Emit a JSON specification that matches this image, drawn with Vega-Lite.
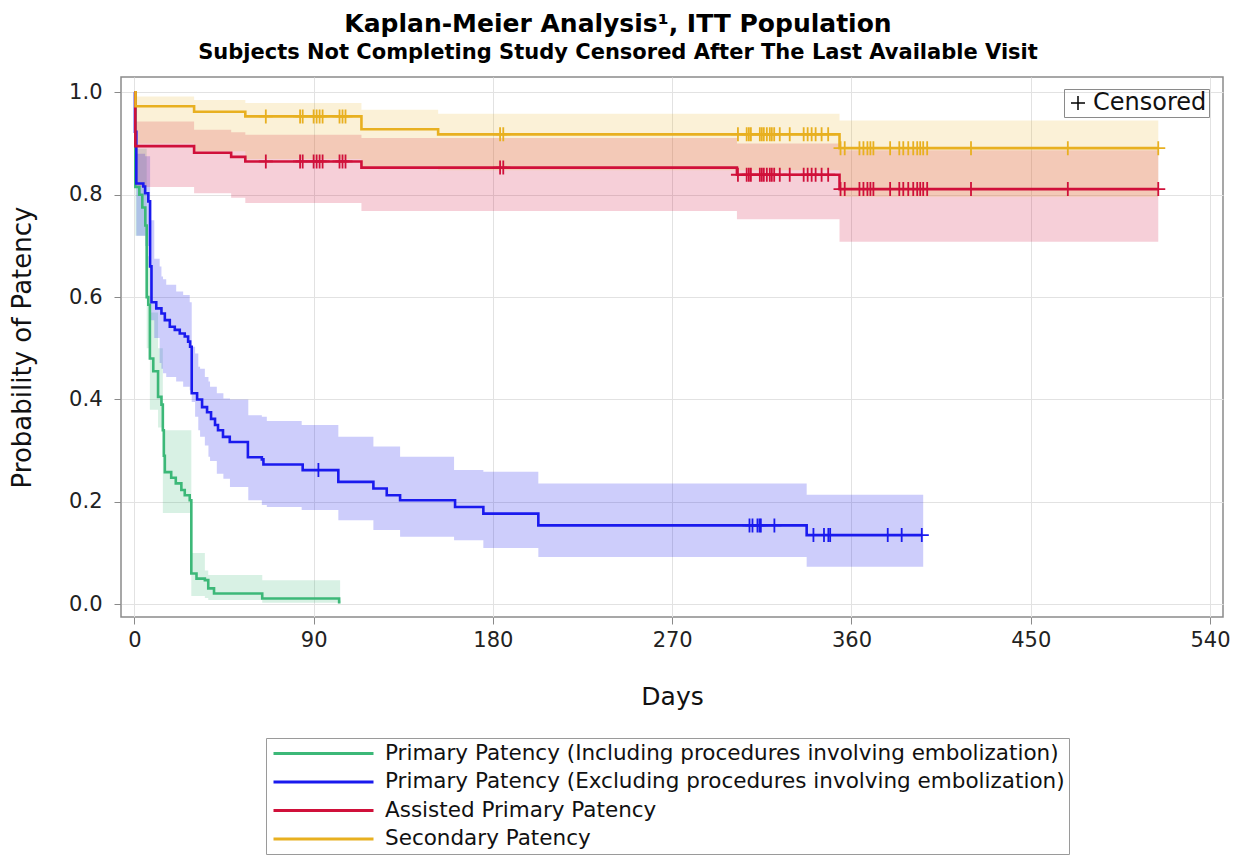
{
  "$schema": "https://vega.github.io/schema/vega-lite/v6.json",
  "width": 1102,
  "height": 540,
  "autosize": {"type": "none"},
  "padding": {"left": 121, "top": 77, "right": 19, "bottom": 238},
  "background": "white",
  "title": {
    "text": "Kaplan-Meier Analysis¹, ITT Population",
    "subtitle": "Subjects Not Completing Study Censored After The Last Available Visit",
    "font": "DejaVu Sans",
    "fontSize": 25,
    "fontWeight": "bold",
    "color": "#000000",
    "subtitleFont": "DejaVu Sans",
    "subtitleFontSize": 21,
    "subtitleFontWeight": "bold",
    "subtitleColor": "#000000",
    "subtitlePadding": 5,
    "anchor": "middle",
    "frame": "group",
    "dx": -54,
    "offset": 14
  },
  "config": {
    "view": {"stroke": "#8a8a8a", "strokeWidth": 1.5},
    "axis": {
      "labelFont": "DejaVu Sans",
      "labelFontSize": 21,
      "labelColor": "#222222",
      "titleFont": "DejaVu Sans",
      "titleFontWeight": "normal",
      "titleColor": "#111111",
      "tickColor": "#8a8a8a",
      "tickSize": 7,
      "domain": false,
      "grid": true,
      "gridColor": "#e2e2e2",
      "gridWidth": 1
    }
  },
  "datasets": {
    "curves": [
      {"s": "G", "d": 0, "p": 1.0}, {"s": "G", "d": 0.5, "p": 0.815}, {"s": "G", "d": 2.5, "p": 0.8}, {"s": "G", "d": 4, "p": 0.775},
      {"s": "G", "d": 5.5, "p": 0.74}, {"s": "G", "d": 6.2, "p": 0.6}, {"s": "G", "d": 7, "p": 0.585}, {"s": "G", "d": 7.8, "p": 0.48},
      {"s": "G", "d": 9.5, "p": 0.455}, {"s": "G", "d": 11.9, "p": 0.405}, {"s": "G", "d": 13.6, "p": 0.39}, {"s": "G", "d": 14.3, "p": 0.34},
      {"s": "G", "d": 14.8, "p": 0.29}, {"s": "G", "d": 15.3, "p": 0.258}, {"s": "G", "d": 18.5, "p": 0.247}, {"s": "G", "d": 20.8, "p": 0.236},
      {"s": "G", "d": 23.6, "p": 0.223}, {"s": "G", "d": 25.3, "p": 0.213}, {"s": "G", "d": 27.8, "p": 0.203}, {"s": "G", "d": 28.6, "p": 0.06},
      {"s": "G", "d": 31.2, "p": 0.05}, {"s": "G", "d": 35.4, "p": 0.047}, {"s": "G", "d": 37.1, "p": 0.031}, {"s": "G", "d": 40, "p": 0.021},
      {"s": "G", "d": 64.2, "p": 0.011}, {"s": "G", "d": 102.8, "p": 0.004}, {"s": "G", "d": 103.5, "p": 0.004},
      {"s": "B", "d": 0, "p": 1.0}, {"s": "B", "d": 0.3, "p": 0.923}, {"s": "B", "d": 1, "p": 0.822}, {"s": "B", "d": 4.5, "p": 0.816},
      {"s": "B", "d": 5.4, "p": 0.803}, {"s": "B", "d": 7, "p": 0.787}, {"s": "B", "d": 7.9, "p": 0.66}, {"s": "B", "d": 8.6, "p": 0.59},
      {"s": "B", "d": 11, "p": 0.578}, {"s": "B", "d": 13.6, "p": 0.568}, {"s": "B", "d": 15.3, "p": 0.555}, {"s": "B", "d": 17.8, "p": 0.542},
      {"s": "B", "d": 20.3, "p": 0.536}, {"s": "B", "d": 22.8, "p": 0.529}, {"s": "B", "d": 25.3, "p": 0.523}, {"s": "B", "d": 27, "p": 0.513},
      {"s": "B", "d": 28, "p": 0.503}, {"s": "B", "d": 28.8, "p": 0.412}, {"s": "B", "d": 31.5, "p": 0.4}, {"s": "B", "d": 34, "p": 0.385},
      {"s": "B", "d": 36.5, "p": 0.375}, {"s": "B", "d": 38.5, "p": 0.362}, {"s": "B", "d": 40.5, "p": 0.35}, {"s": "B", "d": 42, "p": 0.34},
      {"s": "B", "d": 44.5, "p": 0.327}, {"s": "B", "d": 47.9, "p": 0.317}, {"s": "B", "d": 57, "p": 0.287}, {"s": "B", "d": 64, "p": 0.283},
      {"s": "B", "d": 64.8, "p": 0.273}, {"s": "B", "d": 84.5, "p": 0.262}, {"s": "B", "d": 102.4, "p": 0.239}, {"s": "B", "d": 120, "p": 0.226},
      {"s": "B", "d": 126.7, "p": 0.213}, {"s": "B", "d": 133.4, "p": 0.203}, {"s": "B", "d": 161, "p": 0.19}, {"s": "B", "d": 175.2, "p": 0.177},
      {"s": "B", "d": 202.8, "p": 0.154}, {"s": "B", "d": 337.5, "p": 0.135}, {"s": "B", "d": 395.5, "p": 0.135},
      {"s": "R", "d": 0, "p": 1.0}, {"s": "R", "d": 0.5, "p": 0.895}, {"s": "R", "d": 30, "p": 0.882}, {"s": "R", "d": 48.6, "p": 0.874},
      {"s": "R", "d": 55.7, "p": 0.865}, {"s": "R", "d": 114, "p": 0.853}, {"s": "R", "d": 302.5, "p": 0.839}, {"s": "R", "d": 354, "p": 0.811},
      {"s": "R", "d": 514, "p": 0.811},
      {"s": "Y", "d": 0, "p": 1.0}, {"s": "Y", "d": 0.6, "p": 0.973}, {"s": "Y", "d": 30, "p": 0.962}, {"s": "Y", "d": 55.7, "p": 0.953},
      {"s": "Y", "d": 114, "p": 0.928}, {"s": "Y", "d": 152.5, "p": 0.918}, {"s": "Y", "d": 354, "p": 0.891}, {"s": "Y", "d": 514, "p": 0.891}
    ],
    "bandG": [
      {"d": 0, "lo": 1.0, "hi": 1.0}, {"d": 0.5, "lo": 0.72, "hi": 0.89}, {"d": 6.2, "lo": 0.5, "hi": 0.68},
      {"d": 7.8, "lo": 0.38, "hi": 0.57}, {"d": 11.9, "lo": 0.345, "hi": 0.5}, {"d": 14.3, "lo": 0.178, "hi": 0.34},
      {"d": 28.6, "lo": 0.016, "hi": 0.1}, {"d": 35.4, "lo": 0.012, "hi": 0.066}, {"d": 37.1, "lo": 0.008, "hi": 0.057},
      {"d": 64.2, "lo": 0.003, "hi": 0.047}, {"d": 103.3, "lo": 0.003, "hi": 0.047}
    ],
    "bandB": [
      {"d": 0, "lo": 1.0, "hi": 1.0}, {"d": 0.3, "lo": 0.85, "hi": 0.97}, {"d": 1, "lo": 0.72, "hi": 0.88},
      {"d": 5.4, "lo": 0.7, "hi": 0.875}, {"d": 7.9, "lo": 0.555, "hi": 0.75}, {"d": 10, "lo": 0.52, "hi": 0.675},
      {"d": 12.7, "lo": 0.471, "hi": 0.66}, {"d": 13.6, "lo": 0.46, "hi": 0.64}, {"d": 14.4, "lo": 0.451, "hi": 0.635},
      {"d": 16, "lo": 0.444, "hi": 0.624}, {"d": 21, "lo": 0.435, "hi": 0.611}, {"d": 24.5, "lo": 0.425, "hi": 0.604},
      {"d": 27.8, "lo": 0.418, "hi": 0.59}, {"d": 28.8, "lo": 0.395, "hi": 0.503}, {"d": 30.5, "lo": 0.366, "hi": 0.49},
      {"d": 32.1, "lo": 0.34, "hi": 0.464}, {"d": 33, "lo": 0.327, "hi": 0.46}, {"d": 35.4, "lo": 0.31, "hi": 0.444},
      {"d": 37.2, "lo": 0.288, "hi": 0.435}, {"d": 38, "lo": 0.28, "hi": 0.425}, {"d": 41.4, "lo": 0.255, "hi": 0.412},
      {"d": 44.7, "lo": 0.245, "hi": 0.402}, {"d": 48, "lo": 0.229, "hi": 0.4}, {"d": 57.2, "lo": 0.203, "hi": 0.369},
      {"d": 64, "lo": 0.194, "hi": 0.366}, {"d": 66.5, "lo": 0.19, "hi": 0.358}, {"d": 84, "lo": 0.184, "hi": 0.35},
      {"d": 102.4, "lo": 0.164, "hi": 0.327}, {"d": 120, "lo": 0.145, "hi": 0.308}, {"d": 133.4, "lo": 0.132, "hi": 0.288},
      {"d": 160.5, "lo": 0.125, "hi": 0.262}, {"d": 175.2, "lo": 0.11, "hi": 0.259}, {"d": 202.8, "lo": 0.092, "hi": 0.236},
      {"d": 337.5, "lo": 0.073, "hi": 0.214}, {"d": 396, "lo": 0.073, "hi": 0.214}
    ],
    "bandR": [
      {"d": 0, "lo": 1.0, "hi": 1.0}, {"d": 0.5, "lo": 0.815, "hi": 0.943}, {"d": 30, "lo": 0.803, "hi": 0.927},
      {"d": 48.6, "lo": 0.794, "hi": 0.922}, {"d": 55.7, "lo": 0.784, "hi": 0.917}, {"d": 114, "lo": 0.768, "hi": 0.911},
      {"d": 302.5, "lo": 0.752, "hi": 0.9}, {"d": 354, "lo": 0.708, "hi": 0.887}, {"d": 514, "lo": 0.708, "hi": 0.887}
    ],
    "bandY": [
      {"d": 0, "lo": 1.0, "hi": 1.0}, {"d": 0.6, "lo": 0.9, "hi": 0.992}, {"d": 30, "lo": 0.885, "hi": 0.985},
      {"d": 55.7, "lo": 0.87, "hi": 0.979}, {"d": 114, "lo": 0.855, "hi": 0.966}, {"d": 152.5, "lo": 0.848, "hi": 0.958},
      {"d": 354, "lo": 0.796, "hi": 0.945}, {"d": 514, "lo": 0.796, "hi": 0.945}
    ],
    "cens": [
      {"s": "B", "d": 92.4, "p": 0.262}, {"s": "B", "d": 308.8, "p": 0.154}, {"s": "B", "d": 310.3, "p": 0.154}, {"s": "B", "d": 312.8, "p": 0.154},
      {"s": "B", "d": 313.8, "p": 0.154}, {"s": "B", "d": 314.5, "p": 0.154}, {"s": "B", "d": 321.3, "p": 0.154}, {"s": "B", "d": 340.9, "p": 0.135},
      {"s": "B", "d": 346.2, "p": 0.135}, {"s": "B", "d": 348.4, "p": 0.135}, {"s": "B", "d": 349.3, "p": 0.135}, {"s": "B", "d": 378.2, "p": 0.135},
      {"s": "B", "d": 385.2, "p": 0.135}, {"s": "B", "d": 395.3, "p": 0.135},
      {"s": "Y", "d": 66, "p": 0.953}, {"s": "Y", "d": 83.2, "p": 0.953}, {"s": "Y", "d": 84.5, "p": 0.953}, {"s": "Y", "d": 90, "p": 0.953},
      {"s": "Y", "d": 91.5, "p": 0.953}, {"s": "Y", "d": 93, "p": 0.953}, {"s": "Y", "d": 94.5, "p": 0.953}, {"s": "Y", "d": 103, "p": 0.953},
      {"s": "Y", "d": 104.5, "p": 0.953}, {"s": "Y", "d": 106, "p": 0.953}, {"s": "Y", "d": 183.6, "p": 0.918}, {"s": "Y", "d": 185.2, "p": 0.918},
      {"s": "Y", "d": 303, "p": 0.918}, {"s": "Y", "d": 307.4, "p": 0.918}, {"s": "Y", "d": 308.5, "p": 0.918}, {"s": "Y", "d": 309.5, "p": 0.918},
      {"s": "Y", "d": 314, "p": 0.918}, {"s": "Y", "d": 315, "p": 0.918}, {"s": "Y", "d": 316, "p": 0.918}, {"s": "Y", "d": 317.5, "p": 0.918},
      {"s": "Y", "d": 319, "p": 0.918}, {"s": "Y", "d": 320, "p": 0.918}, {"s": "Y", "d": 321.2, "p": 0.918}, {"s": "Y", "d": 324, "p": 0.918},
      {"s": "Y", "d": 329, "p": 0.918}, {"s": "Y", "d": 336, "p": 0.918}, {"s": "Y", "d": 338, "p": 0.918}, {"s": "Y", "d": 340, "p": 0.918},
      {"s": "Y", "d": 342, "p": 0.918}, {"s": "Y", "d": 345, "p": 0.918}, {"s": "Y", "d": 348.3, "p": 0.918},
      {"s": "Y", "d": 354.5, "p": 0.891}, {"s": "Y", "d": 356.6, "p": 0.891}, {"s": "Y", "d": 364, "p": 0.891}, {"s": "Y", "d": 366, "p": 0.891},
      {"s": "Y", "d": 368, "p": 0.891}, {"s": "Y", "d": 369.5, "p": 0.891}, {"s": "Y", "d": 371, "p": 0.891}, {"s": "Y", "d": 379.4, "p": 0.891},
      {"s": "Y", "d": 384, "p": 0.891}, {"s": "Y", "d": 386, "p": 0.891}, {"s": "Y", "d": 388.5, "p": 0.891}, {"s": "Y", "d": 391, "p": 0.891},
      {"s": "Y", "d": 393, "p": 0.891}, {"s": "Y", "d": 394.5, "p": 0.891}, {"s": "Y", "d": 396, "p": 0.891}, {"s": "Y", "d": 398, "p": 0.891},
      {"s": "Y", "d": 420, "p": 0.891}, {"s": "Y", "d": 468.6, "p": 0.891}, {"s": "Y", "d": 514, "p": 0.891},
      {"s": "R", "d": 66, "p": 0.865}, {"s": "R", "d": 83.2, "p": 0.865}, {"s": "R", "d": 84.5, "p": 0.865}, {"s": "R", "d": 90, "p": 0.865},
      {"s": "R", "d": 91.5, "p": 0.865}, {"s": "R", "d": 93, "p": 0.865}, {"s": "R", "d": 94.5, "p": 0.865}, {"s": "R", "d": 103, "p": 0.865},
      {"s": "R", "d": 104.5, "p": 0.865}, {"s": "R", "d": 106, "p": 0.865}, {"s": "R", "d": 183.6, "p": 0.853}, {"s": "R", "d": 185.2, "p": 0.853},
      {"s": "R", "d": 303, "p": 0.839}, {"s": "R", "d": 307.4, "p": 0.839}, {"s": "R", "d": 308.5, "p": 0.839}, {"s": "R", "d": 309.5, "p": 0.839},
      {"s": "R", "d": 314, "p": 0.839}, {"s": "R", "d": 315, "p": 0.839}, {"s": "R", "d": 316, "p": 0.839}, {"s": "R", "d": 317.5, "p": 0.839},
      {"s": "R", "d": 319, "p": 0.839}, {"s": "R", "d": 320, "p": 0.839}, {"s": "R", "d": 321.2, "p": 0.839}, {"s": "R", "d": 324, "p": 0.839},
      {"s": "R", "d": 329, "p": 0.839}, {"s": "R", "d": 336, "p": 0.839}, {"s": "R", "d": 338, "p": 0.839}, {"s": "R", "d": 340, "p": 0.839},
      {"s": "R", "d": 342, "p": 0.839}, {"s": "R", "d": 345, "p": 0.839}, {"s": "R", "d": 348.3, "p": 0.839},
      {"s": "R", "d": 354.5, "p": 0.811}, {"s": "R", "d": 356.6, "p": 0.811}, {"s": "R", "d": 364, "p": 0.811}, {"s": "R", "d": 366, "p": 0.811},
      {"s": "R", "d": 368, "p": 0.811}, {"s": "R", "d": 369.5, "p": 0.811}, {"s": "R", "d": 371, "p": 0.811}, {"s": "R", "d": 379.4, "p": 0.811},
      {"s": "R", "d": 384, "p": 0.811}, {"s": "R", "d": 386, "p": 0.811}, {"s": "R", "d": 388.5, "p": 0.811}, {"s": "R", "d": 391, "p": 0.811},
      {"s": "R", "d": 393, "p": 0.811}, {"s": "R", "d": 394.5, "p": 0.811}, {"s": "R", "d": 396, "p": 0.811}, {"s": "R", "d": 398, "p": 0.811},
      {"s": "R", "d": 420, "p": 0.811}, {"s": "R", "d": 468.6, "p": 0.811}, {"s": "R", "d": 514, "p": 0.811}
    ]
  },
  "encoding": {
    "x": {
      "field": "d",
      "type": "quantitative",
      "scale": {"domain": [-6.7, 546.5], "nice": false, "zero": false},
      "axis": {"values": [0, 90, 180, 270, 360, 450, 540], "title": "Days", "titleFontSize": 25, "labelPadding": 5, "titlePadding": 34}
    },
    "y": {
      "field": "p",
      "type": "quantitative",
      "scale": {"domain": [-0.025, 1.03], "nice": false, "zero": false},
      "axis": {"values": [0, 0.2, 0.4, 0.6, 0.8, 1.0], "format": ".1f", "title": "Probability of Patency", "titleFontSize": 26, "labelPadding": 12, "titlePadding": 33}
    }
  },
  "layer": [
    {
      "data": {"name": "bandG"},
      "mark": {"type": "area", "interpolate": "step-after", "color": "#3cb878", "opacity": 0.2},
      "encoding": {"y": {"field": "lo", "type": "quantitative", "scale": {"domain": [-0.025, 1.03], "nice": false, "zero": false}, "axis": {"values": [0, 0.2, 0.4, 0.6, 0.8, 1.0], "format": ".1f", "title": "Probability of Patency", "titleFontSize": 26, "labelPadding": 12, "titlePadding": 33}}, "y2": {"field": "hi"}}
    },
    {
      "data": {"name": "bandB"},
      "mark": {"type": "area", "interpolate": "step-after", "color": "#1a1aee", "opacity": 0.22},
      "encoding": {"y": {"field": "lo", "type": "quantitative", "scale": {"domain": [-0.025, 1.03], "nice": false, "zero": false}, "axis": {"values": [0, 0.2, 0.4, 0.6, 0.8, 1.0], "format": ".1f", "title": "Probability of Patency", "titleFontSize": 26, "labelPadding": 12, "titlePadding": 33}}, "y2": {"field": "hi"}}
    },
    {
      "data": {"name": "bandR"},
      "mark": {"type": "area", "interpolate": "step-after", "color": "#d0103a", "opacity": 0.2},
      "encoding": {"y": {"field": "lo", "type": "quantitative", "scale": {"domain": [-0.025, 1.03], "nice": false, "zero": false}, "axis": {"values": [0, 0.2, 0.4, 0.6, 0.8, 1.0], "format": ".1f", "title": "Probability of Patency", "titleFontSize": 26, "labelPadding": 12, "titlePadding": 33}}, "y2": {"field": "hi"}}
    },
    {
      "data": {"name": "bandY"},
      "mark": {"type": "area", "interpolate": "step-after", "color": "#e8b020", "opacity": 0.18},
      "encoding": {"y": {"field": "lo", "type": "quantitative", "scale": {"domain": [-0.025, 1.03], "nice": false, "zero": false}, "axis": {"values": [0, 0.2, 0.4, 0.6, 0.8, 1.0], "format": ".1f", "title": "Probability of Patency", "titleFontSize": 26, "labelPadding": 12, "titlePadding": 33}}, "y2": {"field": "hi"}}
    },
    {
      "data": {"name": "curves"},
      "mark": {"type": "line", "interpolate": "step-after", "strokeWidth": 2.6},
      "encoding": {
        "color": {
          "field": "s",
          "type": "nominal",
          "scale": {"domain": ["G", "B", "R", "Y"], "range": ["#3cb878", "#1a1aee", "#d0103a", "#e8b020"]},
          "legend": {
            "orient": "none",
            "legendX": 145,
            "legendY": 661,
            "direction": "vertical",
            "title": null,
            "symbolType": "M-5,0L5,0",
            "symbolSize": 400,
            "symbolStrokeWidth": 3,
            "symbolOpacity": 1,
            "symbolFillColor": "transparent",
            "symbolOffset": 42,
            "labelOffset": 50,
            "labelFont": "DejaVu Sans",
            "labelFontSize": 21.5,
            "labelColor": "#111111",
            "labelLimit": 0,
            "rowPadding": 6.5,
            "padding": 4,
            "strokeColor": "#9a9a9a",
            "labelExpr": "datum.label == 'G' ? 'Primary Patency (Including procedures involving embolization)' : datum.label == 'B' ? 'Primary Patency (Excluding procedures involving embolization)' : datum.label == 'R' ? 'Assisted Primary Patency' : 'Secondary Patency'"
          }
        }
      }
    },
    {
      "data": {"name": "cens"},
      "mark": {"type": "point", "filled": false, "strokeWidth": 1.8, "size": 196, "opacity": 1},
      "encoding": {
        "color": {
          "field": "s",
          "type": "nominal",
          "scale": {"domain": ["G", "B", "R", "Y"], "range": ["#3cb878", "#1a1aee", "#d0103a", "#e8b020"]}
        },
        "shape": {
          "datum": "Censored",
          "type": "nominal",
          "scale": {"domain": ["Censored"], "range": ["M0,-1L0,1M-1,0L1,0"]},
          "legend": {
            "orient": "none",
            "legendX": 943,
            "legendY": 12,
            "title": null,
            "symbolSize": 196,
            "symbolStrokeColor": "#000000",
            "symbolFillColor": "transparent",
            "symbolStrokeWidth": 1.5,
            "labelOffset": 3,
            "labelFont": "DejaVu Sans",
            "labelFontSize": 24,
            "labelColor": "#111111",
            "padding": 2,
            "strokeColor": "#8a8a8a"
          }
        }
      }
    }
  ]
}
